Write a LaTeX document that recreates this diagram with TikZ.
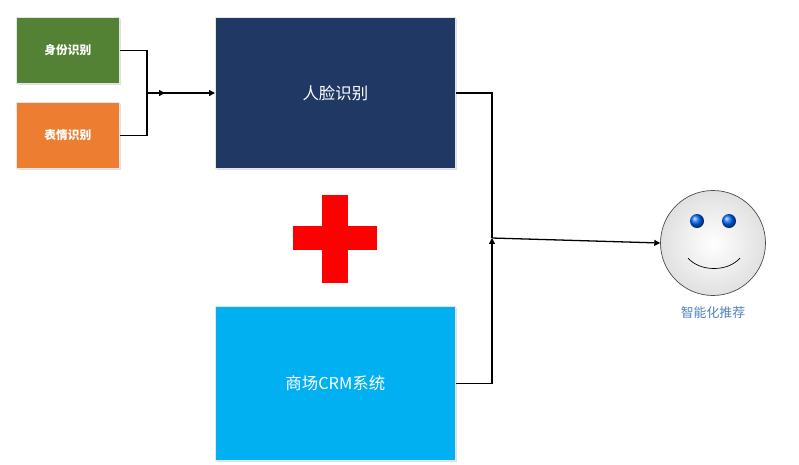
\documentclass[tikz,border=0pt]{standalone}
\usepackage{fontspec}
\setmainfont{Noto Sans CJK SC}
\usetikzlibrary{arrows.meta,shadows}
\definecolor{cgreen}{HTML}{548235}
\definecolor{corange}{HTML}{ED7D31}
\definecolor{cnavy}{HTML}{203864}
\definecolor{ccyan}{HTML}{00B0F0}
\definecolor{clabel}{HTML}{4F81BD}
\begin{document}
\begin{tikzpicture}[x=0.03cm,y=-0.03cm,
  box/.style={draw=white!80!gray,line width=0.6pt,anchor=north west,inner sep=0pt,text=white,drop shadow={opacity=0.25,shadow xshift=1pt,shadow yshift=-1pt}},
  conn/.style={line width=1.1pt,black},
  tip/.style={-{Triangle[length=5pt,width=5pt]}}]
\useasboundingbox (0,0) rectangle (799,464);
\node[box,fill=cgreen,minimum width=3.09cm,minimum height=1.98cm,font=\fontsize{10}{12}\selectfont\bfseries] (sf) at (16,17) {身份识别};
\node[box,fill=corange,minimum width=3.09cm,minimum height=1.98cm,font=\fontsize{10}{12}\selectfont\bfseries] (bq) at (16,102) {表情识别};
\node[box,fill=cnavy,minimum width=7.2cm,minimum height=4.53cm,font=\fontsize{14}{16}\selectfont] (rl) at (215,17) {人脸识别};
\node[box,fill=ccyan,minimum width=7.2cm,minimum height=4.62cm,font=\fontsize{14}{16}\selectfont] (crm) at (215,306) {商场CRM系统};
% red plus
\fill[red] (293,226) rectangle (377,250);
\fill[red] (322,195) rectangle (348,283);
% smiley
\node[circle,draw=black!70,line width=0.6pt,minimum size=3.15cm,inner sep=0pt,
  inner color=white,outer color=black!12] (face) at (713,243) {};
\shade[ball color=blue!60!cyan] (697,221) circle (7);
\shade[ball color=blue!60!cyan] (729,221) circle (7);
\draw[line width=0.6pt] (688,258) .. controls (700,272) and (728,272) .. (740,258);
\node[text=clabel,font=\fontsize{11}{13}\selectfont] (lab) at (713,313) {智能化推荐};
% connectors
\coordinate (j1) at (147,93);
\coordinate (j2) at (492,238);
\draw[conn] (sf.east) -| (j1);
\draw[conn] (bq.east) -| (j1);
\draw[conn,tip] (j1) -- ++(18,0);
\draw[conn,tip] (j1) -- (rl.west|-j1);
\draw[conn] (rl.east|-j1) -| (j2);
\draw[conn,tip] (crm.east) -| (j2);
\draw[conn,tip] (j2) -- (face.west);
\end{tikzpicture}
\end{document}
